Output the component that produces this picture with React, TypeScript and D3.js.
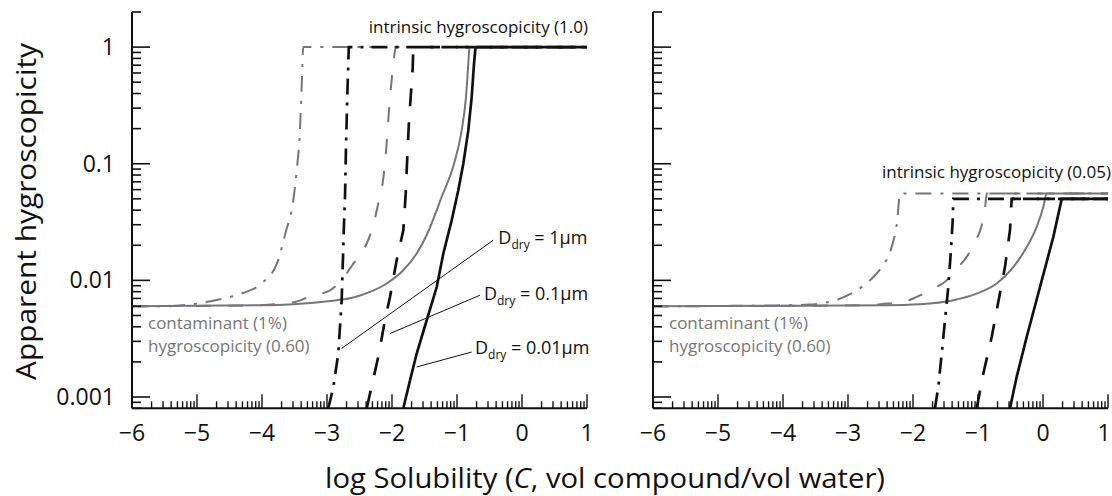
import React from 'react';
import * as d3 from 'd3';

// ---------- axis ticks ----------
const xTickValues = [-6, -5, -4, -3, -2, -1, 0, 1];
const xTickLabels = ['−6', '−5', '−4', '−3', '−2', '−1', '0', '1'];
const yTickValues = [0.001, 0.01, 0.1, 1];
const yTickLabels = ['0.001', '0.01', '0.1', '1'];

// ---------- left panel (intrinsic hygroscopicity 1.0) ----------
const leftContamDashDot: [number, number][] = [
  [-6, 0.006], [-5.52, 0.006], [-5.11, 0.0062], [-4.7, 0.0068], [-4.29, 0.0078], [-4.0, 0.0095],
  [-3.77, 0.014], [-3.62, 0.0278], [-3.543, 0.04], [-3.466, 0.0877], [-3.415, 0.2], [-3.39, 0.454],
  [-3.365, 1], [1, 1],
];
const leftContamDashed: [number, number][] = [
  [-6, 0.006], [-4.2, 0.0061], [-3.672, 0.00633], [-3.492, 0.00653], [-3.211, 0.00745], [-2.954, 0.0082],
  [-2.723, 0.011], [-2.595, 0.0139], [-2.415, 0.0193], [-2.338, 0.0243], [-2.246, 0.0373], [-2.195, 0.0502],
  [-2.134, 0.0745], [-2.082, 0.15], [-2.042, 0.306], [-1.989, 0.64], [-1.938, 1], [1, 1],
];
const leftContamSolid: [number, number][] = [
  [-6, 0.006], [-3.877, 0.00612], [-3.365, 0.00633], [-2.851, 0.00675], [-2.595, 0.00713], [-2.338, 0.00796],
  [-2.082, 0.0094], [-1.826, 0.0122], [-1.62, 0.017], [-1.466, 0.0245], [-1.236, 0.0519],
  [-1.046, 0.1], [-0.928, 0.193], [-0.862, 0.373], [-0.826, 0.72], [-0.808, 1], [1, 1],
];
const leftPure1um: [number, number][] = [
  [-2.98, 0.0008], [-2.902, 0.00122], [-2.826, 0.00237], [-2.774, 0.00675], [-2.74, 0.029], [-2.723, 0.052],
  [-2.708, 0.139], [-2.688, 0.373], [-2.665, 1], [1, 1],
];
const leftPure01um: [number, number][] = [
  [-2.389, 0.0008], [-2.338, 0.00107], [-2.211, 0.00221], [-2.108, 0.00455], [-2.031, 0.00721], [-1.928, 0.0149],
  [-1.826, 0.0269], [-1.789, 0.0554], [-1.765, 0.114], [-1.738, 0.235], [-1.682, 0.653], [-1.672, 1], [1, 1],
];
const leftPure001um: [number, number][] = [
  [-1.826, 0.0008], [-1.723, 0.00139], [-1.62, 0.00236], [-1.466, 0.00455], [-1.312, 0.00877], [-1.211, 0.0169],
  [-1.082, 0.0327], [-0.98, 0.0592], [-0.903, 0.1], [-0.826, 0.193], [-0.774, 0.373], [-0.738, 0.721],
  [-0.715, 1], [1, 1],
];

// ---------- right panel (intrinsic hygroscopicity 0.05) ----------
const rightContamDashDot: [number, number][] = [
  [-6, 0.006], [-4.1, 0.0061], [-3.6, 0.0062], [-3.431, 0.00633], [-3.123, 0.00698], [-2.866, 0.00822],
  [-2.662, 0.01], [-2.482, 0.013], [-2.328, 0.0193], [-2.242, 0.0327], [-2.2, 0.0555], [1, 0.0555],
];
const rightContamDashed: [number, number][] = [
  [-6, 0.006], [-2.662, 0.00612], [-2.405, 0.00633], [-2.149, 0.00653], [-1.943, 0.00721], [-1.688, 0.0085],
  [-1.482, 0.01], [-1.354, 0.0122], [-1.174, 0.0159], [-1.046, 0.0213], [-0.943, 0.0297], [-0.892, 0.0412],
  [-0.866, 0.0555], [1, 0.0555],
];
const rightContamSolid: [number, number][] = [
  [-6, 0.006], [-2.405, 0.00612], [-1.892, 0.00624], [-1.38, 0.00675], [-1.02, 0.0077], [-0.712, 0.0094],
  [-0.457, 0.013], [-0.251, 0.0193], [-0.097, 0.0287], [0.005, 0.0426], [0.057, 0.0555], [1, 0.0555],
];
const rightPure1um: [number, number][] = [
  [-1.662, 0.0008], [-1.611, 0.00122], [-1.558, 0.00236], [-1.508, 0.00455], [-1.457, 0.00877], [-1.42, 0.017],
  [-1.389, 0.0327], [-1.38, 0.05], [1, 0.05],
];
const rightPure01um: [number, number][] = [
  [-1.02, 0.0008], [-0.918, 0.00159], [-0.789, 0.00327], [-0.688, 0.00653], [-0.585, 0.013], [-0.508, 0.0269],
  [-0.482, 0.05], [1, 0.05],
];
const rightPure001um: [number, number][] = [
  [-0.508, 0.0008], [-0.405, 0.00149], [-0.251, 0.00327], [-0.046, 0.00877], [0.158, 0.0235], [0.288, 0.05], [1, 0.05],
];

// ---------- annotations (data coordinates, left panel) ----------
const dLabelValues = ['1µm', '0.1µm', '0.01µm'];
const dLabelPos: [number, number][] = [[-0.364, 0.0206], [-0.585, 0.00675], [-0.723, 0.00236]];
const dLeaderFrom: [number, number][] = [[-0.442, 0.0221], [-0.646, 0.00746], [-0.774, 0.00243]];
const dLeaderTo: [number, number][] = [[-2.774, 0.00261], [-2.031, 0.0035], [-1.62, 0.00181]];

// ---------- styling ----------
const GRAY = '#767676';
const BLACK = '#111';
const FONT = "'Open Sans', sans-serif";
const DASH = '18,16';
const DASHDOT = '16,8,3,8';

type Style = { color: string; width: number; dash?: string; smooth: boolean };
const contamStyles: Style[] = [
  { color: GRAY, width: 2, dash: '16,9,3,9', smooth: true },
  { color: GRAY, width: 2, dash: '15,17', smooth: true },
  { color: GRAY, width: 2, smooth: true },
];
const pureStyles: Style[] = [
  { color: BLACK, width: 2.7, dash: DASHDOT, smooth: false },
  { color: BLACK, width: 2.7, dash: DASH, smooth: false },
  { color: BLACK, width: 2.7, smooth: false },
];

const Y_TOP = 12;
const Y_BOTTOM = 408.3;
const yScale = d3.scaleLog().domain([0.0008, 2]).range([Y_BOTTOM, Y_TOP]);

const panels = [
  {
    id: 'L', x0: 132, x1: 587, yLabels: true,
    contam: [leftContamDashDot, leftContamDashed, leftContamSolid],
    pure: [leftPure1um, leftPure01um, leftPure001um],
  },
  {
    id: 'R', x0: 653, x1: 1108, yLabels: false,
    contam: [rightContamDashDot, rightContamDashed, rightContamSolid],
    pure: [rightPure1um, rightPure01um, rightPure001um],
  },
];

function Panel({ p }: { p: typeof panels[number] }) {
  const x = d3.scaleLinear().domain([-6, 1]).range([p.x0, p.x1]);
  const lineLin = d3.line<[number, number]>().x((d) => x(d[0])).y((d) => yScale(d[1]));
  const lineSmooth = d3
    .line<[number, number]>()
    .x((d) => x(d[0]))
    .y((d) => yScale(d[1]))
    .curve(d3.curveMonotoneX);

  const yTicks: { v: number; major: boolean }[] = [];
  for (let e = -4; e <= 0; e++) {
    for (let k = 1; k <= 9; k++) {
      const v = k * Math.pow(10, e);
      if (v >= 0.0008 * 0.999 && v <= 2 * 1.001) yTicks.push({ v, major: k === 1 });
    }
  }
  const xTicks: { v: number; major: boolean }[] = [];
  for (let i = -6; i <= 1; i++) {
    xTicks.push({ v: i, major: true });
    if (i < 1) for (let k = 2; k <= 9; k++) xTicks.push({ v: i + Math.log10(k), major: false });
  }

  const clipId = 'clip' + p.id;
  const renderSeries = (data: [number, number][], s: Style, key: string) => (
    <path
      key={key}
      d={(s.smooth ? lineSmooth : lineLin)(data) || ''}
      fill="none"
      stroke={s.color}
      strokeWidth={s.width}
      strokeDasharray={s.dash}
      strokeLinejoin="miter"
    />
  );

  return (
    <g>
      <defs>
        <clipPath id={clipId}>
          <rect x={p.x0} y={Y_TOP - 4} width={p.x1 - p.x0 + 4} height={Y_BOTTOM - Y_TOP + 4} />
        </clipPath>
      </defs>
      <g clipPath={`url(#${clipId})`}>
        {p.contam.map((d, i) => renderSeries(d, contamStyles[i], 'c' + i))}
        {p.pure.map((d, i) => renderSeries(d, pureStyles[i], 'p' + i))}
      </g>
      <line x1={p.x0} x2={p.x0} y1={Y_TOP} y2={Y_BOTTOM} stroke={BLACK} strokeWidth={2} />
      {yTicks.map((t, i) => (
        <line
          key={'yt' + i}
          x1={p.x0}
          x2={p.x0 + (t.major ? 18 : 9)}
          y1={yScale(t.v)}
          y2={yScale(t.v)}
          stroke={BLACK}
          strokeWidth={1.6}
        />
      ))}
      {p.yLabels &&
        yTickValues.map((v, i) => (
          <text
            key={'yl' + i}
            x={p.x0 - 17}
            y={yScale(v) + 8}
            textAnchor="end"
            fontFamily={FONT}
            fontSize={23}
            fill={BLACK}
          >
            {yTickLabels[i]}
          </text>
        ))}
      <line x1={p.x0} x2={p.x1} y1={Y_BOTTOM} y2={Y_BOTTOM} stroke={BLACK} strokeWidth={2} />
      {xTicks.map((t, i) => (
        <line
          key={'xt' + i}
          x1={x(t.v)}
          x2={x(t.v)}
          y1={Y_BOTTOM}
          y2={Y_BOTTOM - (t.major ? 14 : 7)}
          stroke={BLACK}
          strokeWidth={1.4}
        />
      ))}
      {xTickValues.map((v, i) => (
        <text
          key={'xl' + i}
          x={Math.min(x(v), 1104)}
          y={441}
          textAnchor="middle"
          fontFamily={FONT}
          fontSize={23}
          fill={BLACK}
        >
          {xTickLabels[i]}
        </text>
      ))}
      <text x={p.x0 + 16} y={329} fontFamily={FONT} fontSize={17} fill={GRAY}>
        contaminant (1%)
      </text>
      <text x={p.x0 + 16} y={352} fontFamily={FONT} fontSize={17} fill={GRAY}>
        hygroscopicity (0.60)
      </text>
    </g>
  );
}

export default function App() {
  const xL = d3.scaleLinear().domain([-6, 1]).range([panels[0].x0, panels[0].x1]);
  return (
    <svg
      width={1112}
      height={496}
      style={{ position: 'absolute', left: 0, top: 0, background: '#fff' }}
      xmlns="http://www.w3.org/2000/svg"
    >
      <rect x={0} y={0} width={1112} height={496} fill="#fff" />
      {panels.map((p) => (
        <Panel key={p.id} p={p} />
      ))}
      <text x={588} y={33} textAnchor="end" fontFamily={FONT} fontSize={17} fill={BLACK}>
        intrinsic hygroscopicity (1.0)
      </text>
      <text x={1111} y={178} textAnchor="end" fontFamily={FONT} fontSize={17} fill={BLACK}>
        intrinsic hygroscopicity (0.05)
      </text>
      {dLabelValues.map((lab, i) => (
        <g key={'d' + i}>
          <line
            x1={xL(dLeaderFrom[i][0])}
            y1={yScale(dLeaderFrom[i][1])}
            x2={xL(dLeaderTo[i][0])}
            y2={yScale(dLeaderTo[i][1])}
            stroke={BLACK}
            strokeWidth={1}
          />
          <text x={xL(dLabelPos[i][0])} y={yScale(dLabelPos[i][1])} fontFamily={FONT} fontSize={18} fill={BLACK}>
            D
            <tspan fontSize={12} dy={5}>
              dry
            </tspan>
            <tspan dy={-5}>{' = ' + lab}</tspan>
          </text>
        </g>
      ))}
      <text
        transform="translate(36,211.5) rotate(-90)"
        textAnchor="middle"
        fontFamily={FONT}
        fontSize={28}
        textLength={337}
        lengthAdjust="spacingAndGlyphs"
        fill={BLACK}
      >
        Apparent hygroscopicity
      </text>
      <text
        x={605}
        y={488}
        textAnchor="middle"
        fontFamily={FONT}
        fontSize={28}
        textLength={560}
        lengthAdjust="spacingAndGlyphs"
        fill={BLACK}
      >
        log Solubility (<tspan fontStyle="italic">C</tspan>, vol compound/vol water)
      </text>
    </svg>
  );
}
